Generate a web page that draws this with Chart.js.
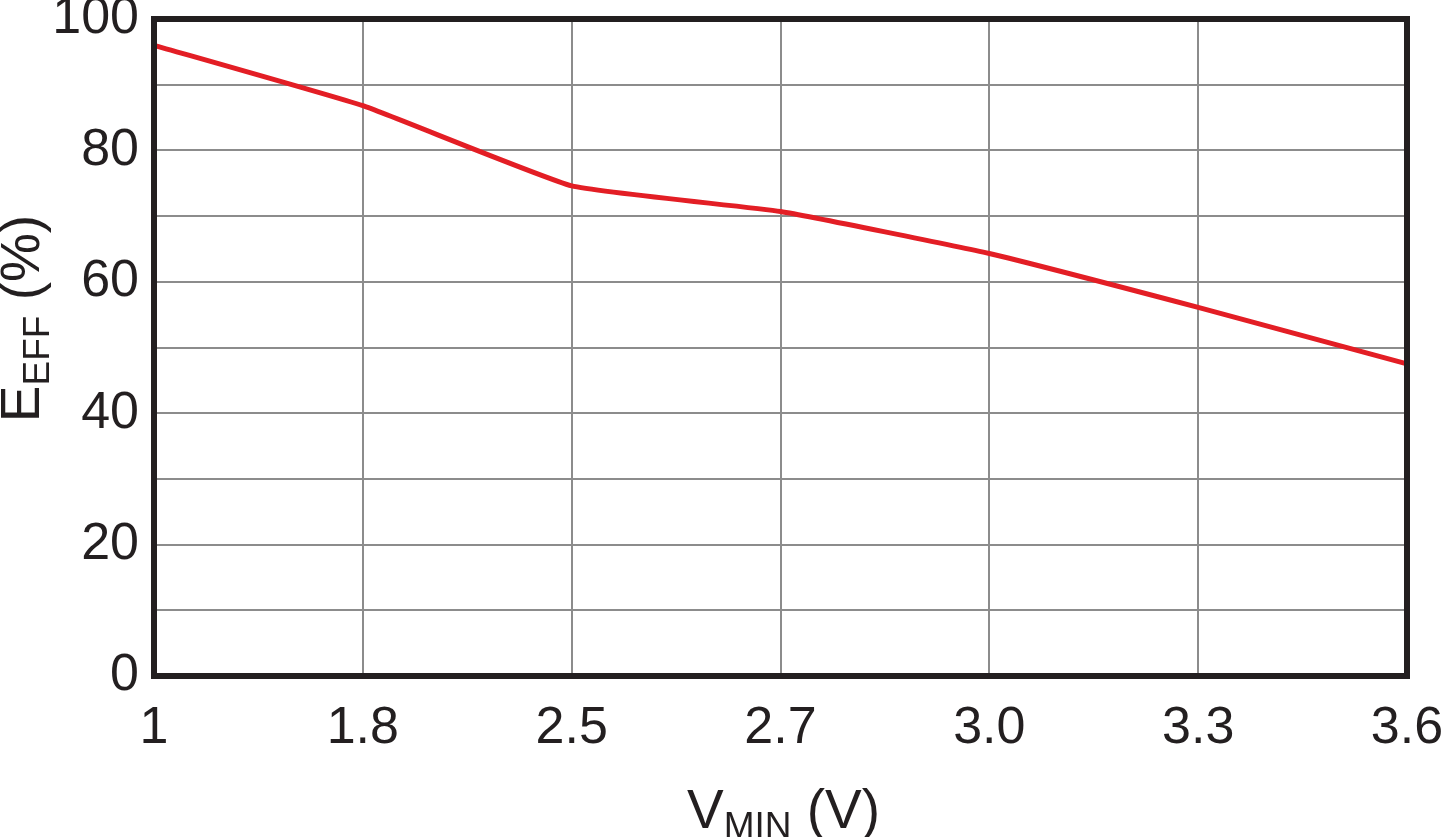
<!DOCTYPE html>
<html><head><meta charset="utf-8">
<script src="https://cdn.jsdelivr.net/npm/chart.js@4.4.0/dist/chart.umd.min.js"></script>
<style>html,body{margin:0;padding:0;background:#fff;overflow:hidden}</style>
</head><body>
<canvas id="c" width="1443" height="837"></canvas>
<script>
// ---- data ----
const vminLabels = ['1', '1.8', '2.5', '2.7', '3.0', '3.3', '3.6'];
const effValues  = [96.0, 86.8, 74.6, 70.7, 64.3, 56.1, 47.5];
const yMin = 0, yMax = 100, yGridStep = 10, yLabelStep = 20;
const xTitleParts = [['V', 'main'], ['MIN', 'sub'], [' (V)', 'main']];
const yTitleParts = [['E', 'main'], ['EFF', 'sub'], [' (%)', 'main']];

const FONT = '"Liberation Sans", Arial, Helvetica, sans-serif';
const INK = '#231f20';
const GRID = '#8c8c8c';
const RED = '#e31e25';
const TICK_SIZE = 52;
const MAIN_SIZE = 55, SUB_SIZE = 37, SUB_DROP = 10;

function drawComposite(ctx, parts, cx, baseline) {
  const widths = parts.map(([t, k]) => {
    ctx.font = (k === 'sub' ? SUB_SIZE : MAIN_SIZE) + 'px ' + FONT;
    return ctx.measureText(t).width;
  });
  const total = widths.reduce((a, b) => a + b, 0);
  let x = cx - total / 2;
  parts.forEach(([t, k], i) => {
    ctx.font = (k === 'sub' ? SUB_SIZE : MAIN_SIZE) + 'px ' + FONT;
    ctx.fillText(t, x, baseline + (k === 'sub' ? SUB_DROP : 0));
    x += widths[i];
  });
}

const framePlugin = {
  id: 'frame',
  afterDraw(chart) {
    const { ctx, chartArea: a } = chart;
    ctx.save();
    ctx.strokeStyle = INK;
    ctx.lineWidth = 6;
    ctx.strokeRect(a.left, a.top, a.right - a.left, a.bottom - a.top);
    ctx.fillStyle = INK;
    ctx.textAlign = 'left';
    ctx.textBaseline = 'alphabetic';
    // x title
    drawComposite(ctx, xTitleParts, (a.left + a.right) / 2 + 3, a.bottom + 152);
    // y title
    ctx.translate(39, (a.top + a.bottom) / 2 - 29);
    ctx.rotate(-Math.PI / 2);
    drawComposite(ctx, yTitleParts, 0, 0);
    ctx.restore();
  }
};

new Chart(document.getElementById('c'), {
  type: 'line',
  data: {
    labels: vminLabels,
    datasets: [{
      data: effValues,
      borderColor: RED,
      borderWidth: 5,
      pointRadius: 0,
      tension: 0.12,
      fill: false
    }]
  },
  options: {
    responsive: false,
    animation: false,
    devicePixelRatio: 1,
    layout: { padding: { top: 19, right: 36, left: 0, bottom: 0 } },
    plugins: { legend: { display: false }, tooltip: { enabled: false } },
    scales: {
      x: {
        type: 'category',
        offset: false,
        grid: { color: GRID, lineWidth: 2, drawTicks: false },
        border: { display: false },
        ticks: { font: { family: FONT, size: TICK_SIZE }, color: INK, padding: 21, maxRotation: 0, autoSkip: false },
        afterFit(s) { s.height = 161; s.paddingLeft = 0; s.paddingRight = 0; }
      },
      y: {
        min: yMin, max: yMax,
        grid: { color: GRID, lineWidth: 2, drawTicks: false },
        border: { display: false },
        ticks: {
          stepSize: yGridStep,
          font: { family: FONT, size: TICK_SIZE }, color: INK, padding: 15,
          callback: v => (v % yLabelStep === 0 ? String(v) : '')
        },
        afterFit(s) { s.width = 154; s.paddingTop = 0; s.paddingBottom = 0; }
      }
    }
  },
  plugins: [framePlugin]
});
</script>
</body></html>
